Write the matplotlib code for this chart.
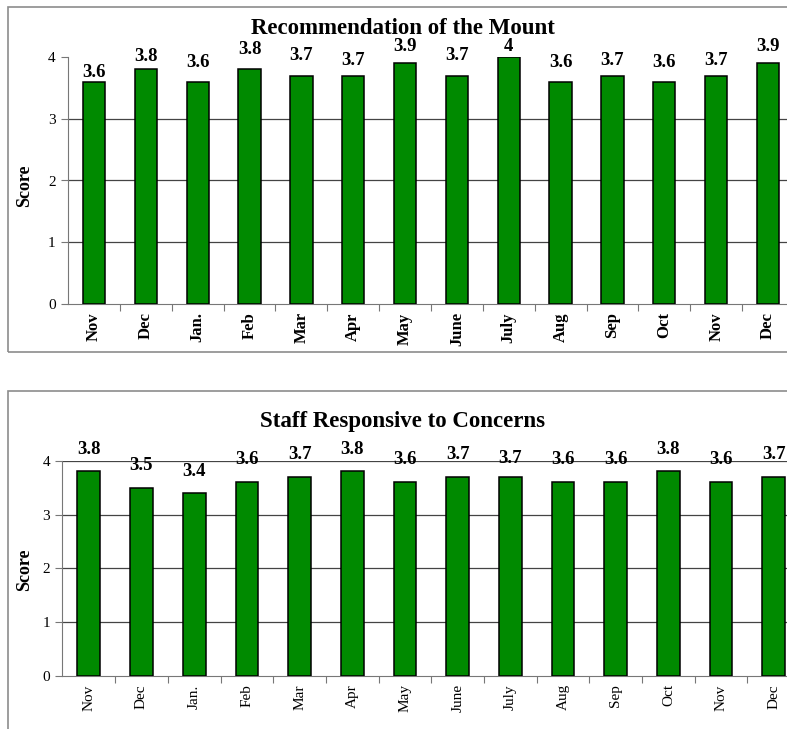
import matplotlib
matplotlib.use("Agg")
import matplotlib.pyplot as plt
from matplotlib.patches import Rectangle

months = ["Nov", "Dec", "Jan.", "Feb", "Mar", "Apr", "May", "June",
          "July", "Aug", "Sep", "Oct", "Nov", "Dec"]
recommend_scores = [3.6, 3.8, 3.6, 3.8, 3.7, 3.7, 3.9, 3.7, 4.0, 3.6, 3.7, 3.6, 3.7, 3.9]
staff_scores = [3.8, 3.5, 3.4, 3.6, 3.7, 3.8, 3.6, 3.7, 3.7, 3.6, 3.6, 3.8, 3.6, 3.7]
y_ticks = [0, 1, 2, 3, 4]

# label offsets above each bar (points)
rec_label_pad = [0.5, 3, 8, 8, 8, 5, 6, 8, 1.5, 8, 5, 8, 5, 6]
staff_label_pad = [10, 9.5, 9.5, 10, 10, 10, 10, 10, 7, 10, 10, 10, 10, 10]

BAR = "#008a00"
SERIF = ["Liberation Serif", "DejaVu Serif"]
W, H = 787, 729

fig = plt.figure(figsize=(W / 100, H / 100), dpi=100)
fig.patch.set_facecolor("white")

# panel frames
fig.add_artist(Rectangle((8 / W, 1 - 352 / H), 1.0, (352 - 7) / H,
                         transform=fig.transFigure, fill=False,
                         edgecolor="#8c8c8c", linewidth=1.2))
fig.add_artist(Rectangle((8 / W, -0.05), 1.0, 1 - 391 / H + 0.05,
                         transform=fig.transFigure, fill=False,
                         edgecolor="#8c8c8c", linewidth=1.2))


def panel(rect, values, title, title_y, score_y, grid_levels, label_pad, bold_ticks):
    ax = fig.add_axes(rect)
    x = list(range(len(values)))
    ax.bar(x, values, width=0.43, color=BAR, edgecolor="black", linewidth=1.1, zorder=3)
    ax.set_xlim(-0.5, len(values) - 0.5)
    ax.set_ylim(0, 4)
    for g in grid_levels:
        ax.axhline(g, color="#444444", linewidth=0.9, zorder=1)
    for s in ["right", "top"]:
        ax.spines[s].set_visible(False)
    ax.spines["left"].set_color("#777777")
    ax.spines["bottom"].set_color("#777777")
    ax.set_yticks(y_ticks)
    ax.set_yticklabels([str(t) for t in y_ticks], fontsize=11, family=SERIF)
    ax.tick_params(axis="y", length=5, color="#777777", pad=4)
    ax.set_xticks([i + 0.5 for i in range(len(values))], minor=False)
    ax.set_xticklabels([])
    ax.tick_params(axis="x", which="major", length=5, color="#777777")
    ax.set_xticks(x, minor=True)
    ax.set_xticklabels(months, minor=True, rotation=90,
                       fontsize=12 if bold_ticks else 11, family=SERIF,
                       fontweight="bold" if bold_ticks else "normal")
    ax.tick_params(axis="x", which="minor", length=0, pad=6)
    fig.text(25 / W, score_y, "Score", rotation=90, ha="center", va="center",
             fontsize=13, fontweight="bold", family=SERIF)
    for xi, v, p in zip(x, values, label_pad):
        ax.annotate(f"{v:g}", (xi, v), xytext=(0, p), textcoords="offset points",
                    ha="center", va="bottom", fontsize=13.5, fontweight="bold",
                    family=SERIF, zorder=4)
    fig.text(0.512, title_y, title, ha="center", va="center", fontsize=16.5,
             fontweight="bold", family=SERIF)
    return ax


sp_top = (768 - 94) / 13
left_top = 94 - sp_top / 2
panel([left_top / W, 1 - 304 / H, 14 * sp_top / W, 247 / H], recommend_scores,
      "Recommendation of the Mount", 1 - 28 / H, 1 - 186 / H, [1, 2, 3],
      rec_label_pad, True)

sp_bot = (773.8 - 88.8) / 13
left_bot = 88.8 - sp_bot / 2
panel([left_bot / W, 1 - 676 / H, 14 * sp_bot / W, 215.3 / H], staff_scores,
      "Staff Responsive to Concerns", 1 - 421 / H, 1 - 570 / H, [1, 2, 3, 4],
      staff_label_pad, False)

fig.savefig("out.png", dpi=100, facecolor="white")
